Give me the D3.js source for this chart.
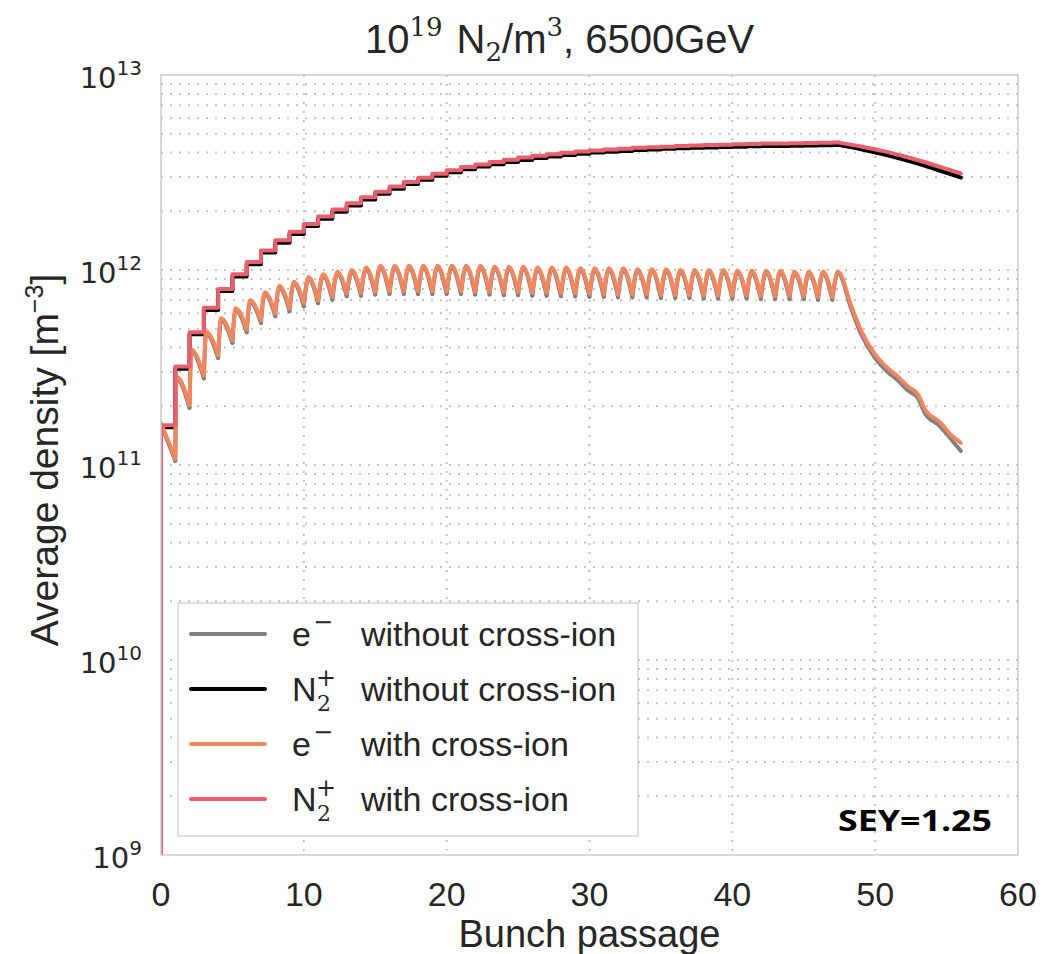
<!DOCTYPE html>
<html>
<head>
<meta charset="utf-8">
<script src="https://cdn.jsdelivr.net/npm/d3@7"></script>
<style>
  body { margin: 0; background: #fff; }
  svg { display: block; }
</style>
</head>
<body>
<svg id="chart" width="1043" height="954"></svg>
<script>
// ---- data ----
// N2+ density level after each bunch passage k (0..47)
var nWithSteps = [1.6e11, 3.2e11, 4.8e11, 6.4e11, 8.0e11, 9.5e11, 1.10e12, 1.26e12, 1.42e12, 1.57e12,
  1.72e12, 1.88e12, 2.04e12, 2.20e12, 2.36e12, 2.52e12, 2.68e12, 2.83e12, 2.97e12, 3.12e12,
  3.25e12, 3.37e12, 3.48e12, 3.58e12, 3.68e12, 3.77e12, 3.85e12, 3.92e12, 3.99e12, 4.05e12,
  4.10e12, 4.15e12, 4.19e12, 4.23e12, 4.26e12, 4.29e12, 4.32e12, 4.35e12, 4.37e12, 4.39e12,
  4.41e12, 4.43e12, 4.45e12, 4.46e12, 4.47e12, 4.48e12, 4.49e12, 4.50e12];
var nWithoutSteps = [1.56e11, 3.12e11, 4.68e11, 6.24e11, 7.8e11, 9.27e11, 1.07e12, 1.23e12, 1.38e12, 1.53e12,
  1.68e12, 1.83e12, 1.99e12, 2.14e12, 2.30e12, 2.46e12, 2.61e12, 2.76e12, 2.90e12, 3.04e12,
  3.17e12, 3.29e12, 3.39e12, 3.49e12, 3.58e12, 3.67e12, 3.75e12, 3.82e12, 3.89e12, 3.95e12,
  4.00e12, 4.04e12, 4.08e12, 4.12e12, 4.15e12, 4.18e12, 4.21e12, 4.23e12, 4.25e12, 4.27e12,
  4.29e12, 4.31e12, 4.32e12, 4.33e12, 4.34e12, 4.35e12, 4.36e12, 4.37e12];
// N2+ after the train
var nTailX = [47.5, 49, 50.5, 52, 53.5, 55, 56];
var nWithTail = [4.50e12, 4.30e12, 4.08e12, 3.83e12, 3.57e12, 3.30e12, 3.13e12];
var nWithoutTail = [4.37e12, 4.16e12, 3.93e12, 3.68e12, 3.42e12, 3.15e12, 2.98e12];

// e- density: value at bunch k (just before the kick) and peak after bunch k
var eWithTrough = [1e9, 1.08e11, 2.03e11, 2.88e11, 3.66e11, 4.37e11, 4.96e11, 5.54e11, 6.0e11, 6.36e11,
  6.75e11, 7.0e11, 7.3e11, 7.6e11, 7.65e11, 7.75e11, 7.8e11, 7.8e11, 7.8e11, 7.8e11,
  7.8e11, 7.8e11, 7.75e11, 7.75e11, 7.7e11, 7.7e11, 7.65e11, 7.65e11, 7.6e11, 7.6e11,
  7.55e11, 7.55e11, 7.5e11, 7.5e11, 7.5e11, 7.45e11, 7.45e11, 7.45e11, 7.4e11, 7.4e11,
  7.4e11, 7.4e11, 7.35e11, 7.35e11, 7.35e11, 7.35e11, 7.3e11, 7.3e11];
var eWithPeak = [1.64e11, 2.84e11, 3.9e11, 4.83e11, 5.65e11, 6.36e11, 7.0e11, 7.7e11, 8.3e11, 8.7e11,
  9.2e11, 9.5e11, 9.8e11, 1.0e12, 1.03e12, 1.05e12, 1.05e12, 1.05e12, 1.05e12, 1.05e12,
  1.05e12, 1.05e12, 1.05e12, 1.04e12, 1.04e12, 1.04e12, 1.03e12, 1.03e12, 1.03e12, 1.02e12,
  1.02e12, 1.02e12, 1.02e12, 1.01e12, 1.01e12, 1.01e12, 1.0e12, 1.0e12, 1.0e12, 1.0e12,
  9.9e11, 9.9e11, 9.9e11, 9.9e11, 9.8e11, 9.8e11, 9.8e11, 9.8e11];
var eWithoutTrough = [1e9, 1.05e11, 1.96e11, 2.78e11, 3.53e11, 4.22e11, 4.79e11, 5.35e11, 5.79e11, 6.14e11,
  6.51e11, 6.76e11, 7.04e11, 7.33e11, 7.38e11, 7.48e11, 7.53e11, 7.53e11, 7.53e11, 7.53e11,
  7.53e11, 7.53e11, 7.48e11, 7.48e11, 7.43e11, 7.43e11, 7.38e11, 7.38e11, 7.33e11, 7.33e11,
  7.29e11, 7.29e11, 7.24e11, 7.24e11, 7.24e11, 7.19e11, 7.19e11, 7.19e11, 7.14e11, 7.14e11,
  7.14e11, 7.14e11, 7.09e11, 7.09e11, 7.09e11, 7.09e11, 7.04e11, 7.04e11];
var eWithoutPeak = [1.62e11, 2.78e11, 3.82e11, 4.73e11, 5.54e11, 6.23e11, 6.86e11, 7.55e11, 8.13e11, 8.53e11,
  9.02e11, 9.31e11, 9.6e11, 9.8e11, 1.01e12, 1.03e12, 1.03e12, 1.03e12, 1.03e12, 1.03e12,
  1.03e12, 1.03e12, 1.03e12, 1.02e12, 1.02e12, 1.02e12, 1.01e12, 1.01e12, 1.01e12, 1.0e12,
  1.0e12, 1.0e12, 1.0e12, 9.9e11, 9.9e11, 9.9e11, 9.8e11, 9.8e11, 9.8e11, 9.8e11,
  9.7e11, 9.7e11, 9.7e11, 9.7e11, 9.6e11, 9.6e11, 9.6e11, 9.6e11];
// where the e- peak sits inside each bunch spacing
var peakPos = [0, 0.08, 0.12, 0.16, 0.2, 0.22, 0.24, 0.26, 0.28, 0.3,
  0.32, 0.34, 0.35, 0.35, 0.35, 0.35, 0.35, 0.35, 0.35, 0.35,
  0.35, 0.35, 0.35, 0.35, 0.35, 0.35, 0.35, 0.35, 0.35, 0.35,
  0.35, 0.35, 0.35, 0.35, 0.35, 0.35, 0.35, 0.35, 0.35, 0.35,
  0.35, 0.35, 0.35, 0.35, 0.35, 0.35, 0.35, 0.4];
// e- decay after the train
var eTailX = [48.35, 49.0, 49.95, 50.9, 51.6, 52.3, 53.0, 53.5, 54.5, 55.3, 56];
var eWithTail = [6.49e11, 4.92e11, 3.74e11, 3.13e11, 2.84e11, 2.52e11, 2.30e11, 1.92e11, 1.67e11, 1.43e11, 1.30e11];
var eWithoutTail = [6.25e11, 4.72e11, 3.58e11, 2.99e11, 2.71e11, 2.41e11, 2.20e11, 1.83e11, 1.59e11, 1.36e11, 1.18e11];

var xTicks = [0, 10, 20, 30, 40, 50, 60];
var yExponents = [9, 10, 11, 12, 13];
var legendLabels = ["without cross-ion", "without cross-ion", "with cross-ion", "with cross-ion"];
var legendSpecies = ["e", "N", "e", "N"];

var colGray = "#808080", colBlack = "#000000", colOrange = "#f0875f", colRed = "#e8606e";
var textCol = "#262626";

// ---- layout ----
var svg = d3.select("#chart");
var pL = 161, pR = 1018, pT = 75, pB = 855;
var x = d3.scaleLinear().domain([0, 60]).range([pL, pR]);
var y = d3.scaleLog().domain([1e9, 1e13]).range([pB, pT]);

svg.append("defs").append("clipPath").attr("id", "clip")
  .append("rect").attr("x", pL).attr("y", pT).attr("width", pR - pL).attr("height", pB - pT);

// grid
var minorVals = [];
for (var e = 9; e < 13; e++) {
  for (var m = 1; m <= 9; m++) {
    if (e === 9 && m === 1) continue;
    minorVals.push(m * Math.pow(10, e));
  }
}
var grid = svg.append("g");
grid.selectAll("line.h").data(minorVals).enter().append("line")
  .attr("x1", pL).attr("x2", pR)
  .attr("y1", function (d) { return y(d); }).attr("y2", function (d) { return y(d); })
  .attr("stroke", "#c4c4c4").attr("stroke-width", 2).attr("stroke-dasharray", "2,7");
grid.selectAll("line.v").data(xTicks.slice(1, -1)).enter().append("line")
  .attr("y1", pT).attr("y2", pB)
  .attr("x1", function (d) { return x(d); }).attr("x2", function (d) { return x(d); })
  .attr("stroke", "#c4c4c4").attr("stroke-width", 2).attr("stroke-dasharray", "2,7");

// lines
var plot = svg.append("g").attr("clip-path", "url(#clip)");
var lineLin = d3.line().x(function (d) { return x(d[0]); }).y(function (d) { return y(d[1]); });
var lineStep = d3.line().x(function (d) { return x(d[0]); }).y(function (d) { return y(d[1]); }).curve(d3.curveStepAfter);
var lineMono = d3.line().x(function (d) { return x(d[0]); }).y(function (d) { return y(d[1]); }).curve(d3.curveMonotoneX);

function drawElectrons(trough, peak, tailVals, color) {
  var g = plot.append("g").attr("fill", "none").attr("stroke", color).attr("stroke-width", 4)
    .attr("stroke-linecap", "round").attr("stroke-linejoin", "round");
  for (var k = 0; k < trough.length; k++) {
    var pts = [[k, trough[k]], [k + peakPos[k], peak[k]]];
    if (k < trough.length - 1) {
      pts.push([k + 1, trough[k + 1]]);
    } else {
      eTailX.forEach(function (tx, i) { pts.push([tx, tailVals[i]]); });
    }
    g.append("path").attr("d", peakPos[k] > 0 ? lineMono(pts) : lineLin(pts));
  }
}
function drawIons(steps, tailVals, color) {
  var pts = [[0, 1e9]];
  steps.forEach(function (v, k) { pts.push([k, v]); });
  pts.push([nTailX[0], steps[steps.length - 1]]);
  var tail = nTailX.map(function (tx, i) { return [tx, tailVals[i]]; });
  var g = plot.append("g").attr("fill", "none").attr("stroke", color).attr("stroke-width", 4)
    .attr("stroke-linecap", "round").attr("stroke-linejoin", "round");
  g.append("path").attr("d", lineStep(pts));
  g.append("path").attr("d", lineMono(tail));
}

drawElectrons(eWithoutTrough, eWithoutPeak, eWithoutTail, colGray);
drawIons(nWithoutSteps, nWithoutTail, colBlack);
drawElectrons(eWithTrough, eWithPeak, eWithTail, colOrange);
drawIons(nWithSteps, nWithTail, colRed);

// frame
svg.append("rect").attr("x", pL).attr("y", pT).attr("width", pR - pL).attr("height", pB - pT)
  .attr("fill", "none").attr("stroke", "#cccccc").attr("stroke-width", 1.5);

// x ticks
svg.append("g").selectAll("text").data(xTicks).enter().append("text")
  .attr("x", function (d) { return x(d); }).attr("y", 906)
  .attr("text-anchor", "middle").attr("font-family", "Liberation Sans, Arial, sans-serif")
  .attr("font-size", 34).attr("fill", textCol).text(function (d) { return d; });

// y ticks
var yt = svg.append("g").selectAll("text").data(yExponents).enter().append("text")
  .attr("x", 142).attr("y", function (d) { return y(Math.pow(10, d)) + 13; })
  .attr("text-anchor", "end").attr("font-family", "DejaVu Sans, sans-serif").attr("fill", textCol);
yt.append("tspan").attr("font-size", 29).text("10");
yt.append("tspan").attr("font-size", 20).attr("dy", -13).text(function (d) { return d; });

// axis titles
svg.append("text").attr("x", (pL + pR) / 2).attr("y", 947).attr("text-anchor", "middle")
  .attr("font-family", "Liberation Sans, Arial, sans-serif").attr("font-size", 38).attr("fill", textCol)
  .text("Bunch passage");
var yl = svg.append("text").attr("transform", "translate(58," + ((pT + pB) / 2 - 5) + ") rotate(-90)")
  .attr("text-anchor", "middle").attr("font-family", "Liberation Sans, Arial, sans-serif")
  .attr("font-size", 39).attr("fill", textCol);
yl.append("tspan").text("Average density [m");
yl.append("tspan").attr("font-size", 25).attr("dy", -15).text("\u22123");
yl.append("tspan").attr("dy", 15).text("]");

// title
var tt = svg.append("text").attr("x", 365).attr("y", 53).attr("font-family", "Liberation Sans, Arial, sans-serif")
  .attr("font-size", 40).attr("fill", textCol);
tt.append("tspan").text("10");
tt.append("tspan").attr("font-family", "DejaVu Serif, serif").attr("font-size", 26).attr("dy", -17).text("19");
tt.append("tspan").attr("dy", 17).attr("dx", 14).text("N");
tt.append("tspan").attr("font-family", "DejaVu Serif, serif").attr("font-size", 26).attr("dy", 8).text("2");
tt.append("tspan").attr("dy", -8).text("/m");
tt.append("tspan").attr("font-family", "DejaVu Serif, serif").attr("font-size", 26).attr("dy", -17).text("3");
tt.append("tspan").attr("dy", 17).text(", 6500GeV");

// legend
var legendColors = [colGray, colBlack, colOrange, colRed];
var lg = svg.append("g");
lg.append("rect").attr("x", 178).attr("y", 603).attr("width", 460).attr("height", 233)
  .attr("fill", "#ffffff").attr("stroke", "#cccccc").attr("stroke-width", 1.2);
legendLabels.forEach(function (lab, i) {
  var ry = 634 + i * 55;
  lg.append("line").attr("x1", 191).attr("x2", 265).attr("y1", ry).attr("y2", ry)
    .attr("stroke", legendColors[i]).attr("stroke-width", 4).attr("stroke-linecap", "round");
  var t = lg.append("text").attr("font-family", "Liberation Sans, Arial, sans-serif").attr("fill", textCol);
  t.append("tspan").attr("x", 292).attr("y", ry + 12).attr("font-size", 34).text(legendSpecies[i]);
  if (legendSpecies[i] === "e") {
    t.append("tspan").attr("x", 313).attr("y", ry - 4).attr("font-size", 24)
      .attr("font-family", "DejaVu Serif, serif").text("\u2212");
  } else {
    t.append("tspan").attr("x", 317).attr("y", ry + 22).attr("font-size", 22)
      .attr("font-family", "DejaVu Serif, serif").text("2");
    t.append("tspan").attr("x", 316).attr("y", ry - 3).attr("font-size", 24)
      .attr("font-family", "DejaVu Serif, serif").text("+");
  }
  lg.append("text").attr("x", 361).attr("y", ry + 12).attr("font-family", "Liberation Sans, Arial, sans-serif")
    .attr("font-size", 34).attr("fill", textCol).text(lab);
});

// annotation
svg.append("text").attr("x", 838).attr("y", 831).attr("font-family", "Open Sans, Lato, sans-serif")
  .attr("font-weight", "bold").attr("font-size", 29).attr("fill", "#000")
  .attr("textLength", 154).attr("lengthAdjust", "spacingAndGlyphs").text("SEY=1.25");
</script>
</body>
</html>
